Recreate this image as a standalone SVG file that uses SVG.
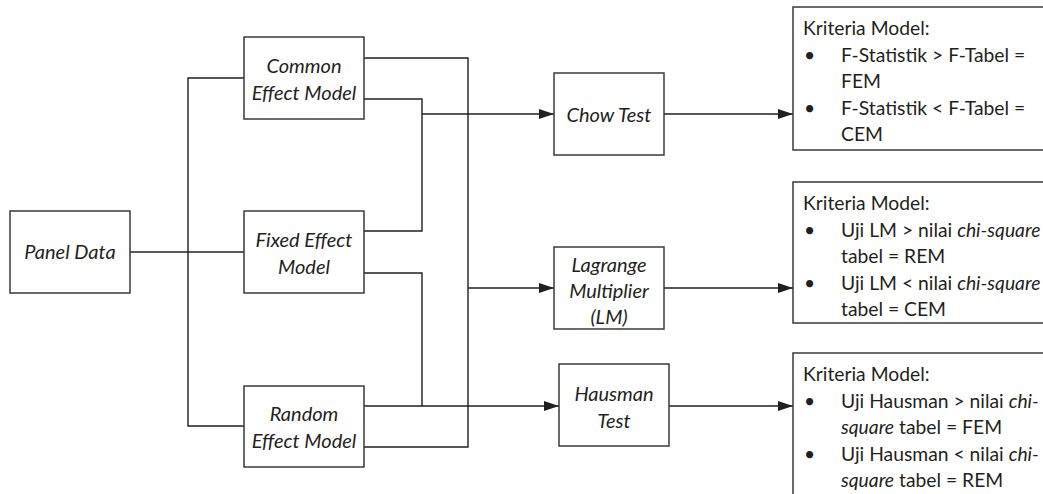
<svg xmlns="http://www.w3.org/2000/svg" width="1043" height="494" viewBox="0 0 1043 494">
<style>
.box{fill:#fff;stroke:#3a3a3a;stroke-width:1.5}
.ln{fill:none;stroke:#231f20;stroke-width:1.4}
.t{font-family:Lato,"Liberation Sans",sans-serif;font-size:20px;fill:#231f20}
.k{font-size:19.3px}
.it{font-style:italic}
.c{text-anchor:middle}
</style>
<defs>
<marker id="ah" markerUnits="userSpaceOnUse" markerWidth="16" markerHeight="11" refX="15" refY="5" orient="auto">
<path d="M0,0 L15,5 L0,10 z" fill="#231f20"/>
</marker>
</defs>
<g id="connectors">
<path class="ln" d="M130,252 H244"/>
<path class="ln" d="M244,78 H188 V426 H244"/>
<path class="ln" d="M364,58 H468 V447 H364"/>
<path class="ln" d="M364,99 H422 V231 H364"/>
<path class="ln" d="M364,273 H422 V406"/>
<path class="ln" d="M422,114 H554" marker-end="url(#ah)"/>
<path class="ln" d="M468,288 H554" marker-end="url(#ah)"/>
<path class="ln" d="M364,406 H559" marker-end="url(#ah)"/>
<path class="ln" d="M664,114 H793" marker-end="url(#ah)"/>
<path class="ln" d="M664,288 H793" marker-end="url(#ah)"/>
<path class="ln" d="M668,406 H793" marker-end="url(#ah)"/>
</g>
<g id="panel">
<rect class="box" x="10" y="211" width="120" height="82"/>
<text class="t it c" x="70" y="259">Panel Data</text>
</g>
<g id="common">
<rect class="box" x="244" y="37" width="120" height="82"/>
<text class="t it c" x="304" y="73">Common</text>
<text class="t it c" x="304" y="100">Effect Model</text>
</g>
<g id="fixed">
<rect class="box" x="244" y="211" width="120" height="82"/>
<text class="t it c" x="304" y="247">Fixed Effect</text>
<text class="t it c" x="304" y="274">Model</text>
</g>
<g id="random">
<rect class="box" x="244" y="386" width="120" height="81"/>
<text class="t it c" x="304" y="421">Random</text>
<text class="t it c" x="304" y="448">Effect Model</text>
</g>
<g id="chow">
<rect class="box" x="554" y="73" width="110" height="82"/>
<text class="t it c" x="609" y="122">Chow Test</text>
</g>
<g id="lm">
<rect class="box" x="554" y="247" width="110" height="82"/>
<text class="t it c" x="609" y="272">Lagrange</text>
<text class="t it c" x="609" y="298">Multiplier</text>
<text class="t it c" x="609" y="324">(LM)</text>
</g>
<g id="hausman">
<rect class="box" x="559" y="364" width="110" height="82"/>
<text class="t it c" x="614" y="401">Hausman</text>
<text class="t it c" x="614" y="428">Test</text>
</g>
<g id="crit1">
<rect class="box" x="793" y="7" width="280" height="143"/>
<text class="t k" x="803" y="35">Kriteria Model:</text>
<text class="t k" x="804" y="61.5">•</text>
<text class="t k" x="841" y="61.5">F-Statistik &gt; F-Tabel =</text>
<text class="t k" x="841" y="88">FEM</text>
<text class="t k" x="804" y="114.5">•</text>
<text class="t k" x="841" y="114.5">F-Statistik &lt; F-Tabel =</text>
<text class="t k" x="841" y="141">CEM</text>
</g>
<g id="crit2">
<rect class="box" x="793" y="182" width="280" height="141"/>
<text class="t k" x="803" y="210">Kriteria Model:</text>
<text class="t k" x="804" y="236.5">•</text>
<text class="t k" x="841" y="236.5">Uji LM &gt; nilai <tspan class="it">chi-square</tspan></text>
<text class="t k" x="841" y="263">tabel = REM</text>
<text class="t k" x="804" y="289.5">•</text>
<text class="t k" x="841" y="289.5">Uji LM &lt; nilai <tspan class="it">chi-square</tspan></text>
<text class="t k" x="841" y="316">tabel = CEM</text>
</g>
<g id="crit3">
<rect class="box" x="793" y="353" width="280" height="160"/>
<text class="t k" x="803" y="381">Kriteria Model:</text>
<text class="t k" x="804" y="407.5">•</text>
<text class="t k" x="841" y="407.5">Uji Hausman &gt; nilai <tspan class="it">chi-</tspan></text>
<text class="t k" x="841" y="434"><tspan class="it">square</tspan> tabel = FEM</text>
<text class="t k" x="804" y="460.5">•</text>
<text class="t k" x="841" y="460.5">Uji Hausman &lt; nilai <tspan class="it">chi-</tspan></text>
<text class="t k" x="841" y="487"><tspan class="it">square</tspan> tabel = REM</text>
</g>
</svg>
